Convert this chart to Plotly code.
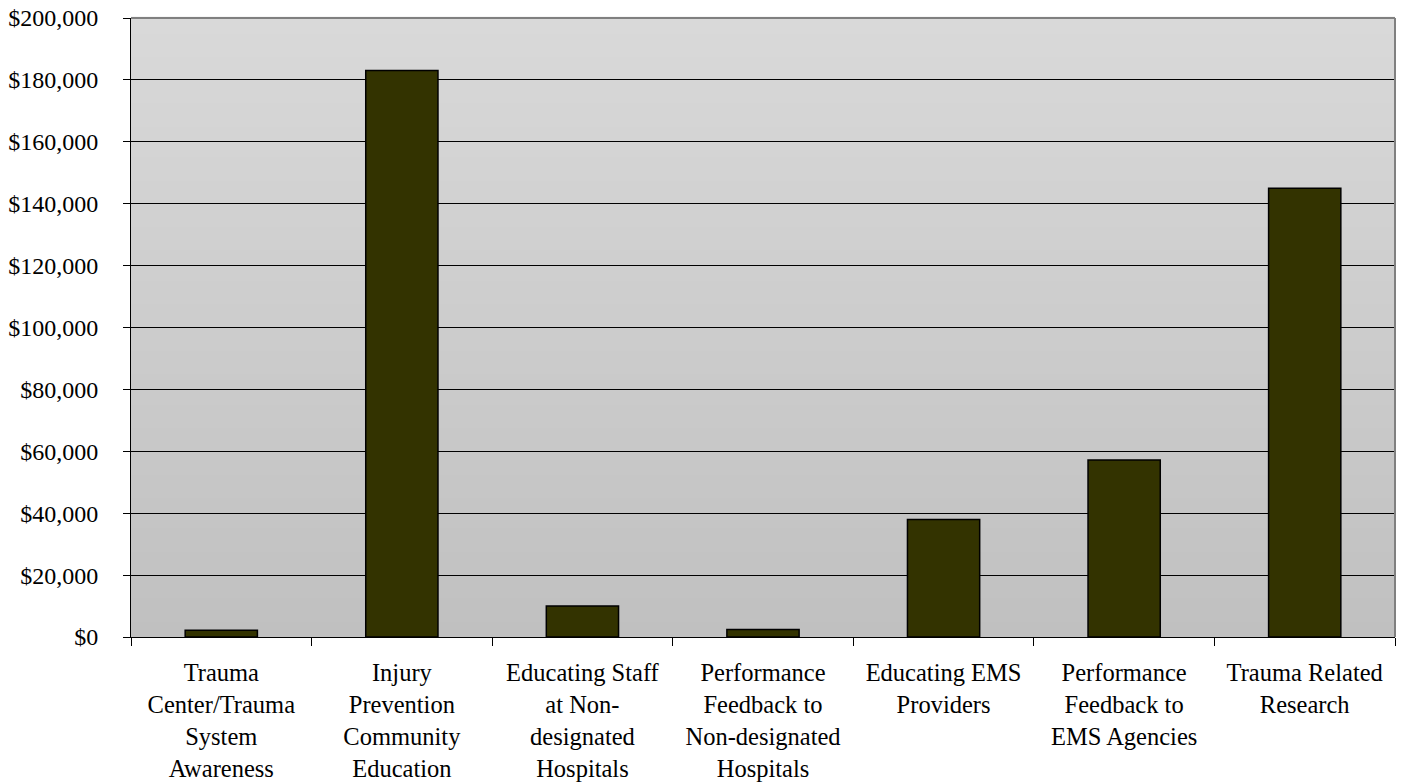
import plotly.graph_objects as go

categories = [
    "Trauma<br>Center/Trauma<br>System<br>Awareness",
    "Injury<br>Prevention<br>Community<br>Education",
    "Educating Staff<br>at Non-<br>designated<br>Hospitals",
    "Performance<br>Feedback to<br>Non-designated<br>Hospitals",
    "Educating EMS<br>Providers",
    "Performance<br>Feedback to<br>EMS Agencies",
    "Trauma Related<br>Research",
]
values = [2200, 183000, 10000, 2400, 38000, 57200, 145000]
tick_vals = [0, 20000, 40000, 60000, 80000, 100000, 120000, 140000, 160000, 180000, 200000]
tick_text = ["$0", "$20,000", "$40,000", "$60,000", "$80,000", "$100,000",
             "$120,000", "$140,000", "$160,000", "$180,000", "$200,000"]

FONT = "Liberation Serif, Times New Roman, serif"

fig = go.Figure()
fig.add_trace(go.Bar(
    x=categories, y=values,
    marker=dict(color="#333300", line=dict(color="#000000", width=1.5)),
    width=0.4,
))

# gradient background stripes
shapes = []
N = 80
top = (0xD9, 0xD9, 0xD9)
bot = (0xC0, 0xC0, 0xC0)
for i in range(N):
    t = (i + 0.5) / N
    c = tuple(round(bot[k] + (top[k] - bot[k]) * t) for k in range(3))
    shapes.append(dict(type="rect", xref="paper", yref="paper",
                       x0=0, x1=1, y0=i / N, y1=(i + 1) / N + 0.002,
                       fillcolor="rgb(%d,%d,%d)" % c, line=dict(width=0),
                       layer="below"))
# top and right borders
shapes.append(dict(type="line", xref="paper", yref="paper", x0=0, x1=1, y0=1, y1=1,
                   line=dict(color="#808080", width=2), layer="above"))
shapes.append(dict(type="line", xref="paper", yref="paper", x0=1, x1=1, y0=0, y1=1,
                   line=dict(color="#808080", width=2), layer="above"))

fig.update_layout(
    width=1401, height=782,
    margin=dict(l=131, r=6, t=18, b=145, autoexpand=False),
    paper_bgcolor="white",
    plot_bgcolor="rgba(0,0,0,0)",
    showlegend=False,
    shapes=shapes,
    font=dict(family=FONT, size=24, color="black"),
    bargap=0.6,
)
fig.update_yaxes(
    range=[0, 200000], tickvals=tick_vals, ticktext=tick_text,
    showgrid=True, gridcolor="black", gridwidth=1,
    showline=True, linecolor="black", linewidth=1,
    ticks="outside", ticklen=7, tickcolor="black",
    ticklabelstandoff=20, zeroline=False, automargin=False,
    tickfont=dict(family=FONT, size=24, color="black"),
)
fig.update_xaxes(
    showgrid=False, showline=True, linecolor="black", linewidth=1,
    ticks="outside", ticklen=8, tickcolor="black", tickson="boundaries",
    tickangle=0, ticklabelstandoff=14, automargin=False,
    tickfont=dict(family=FONT, size=24.5, color="black"),
)

fig.write_html("out.html")
